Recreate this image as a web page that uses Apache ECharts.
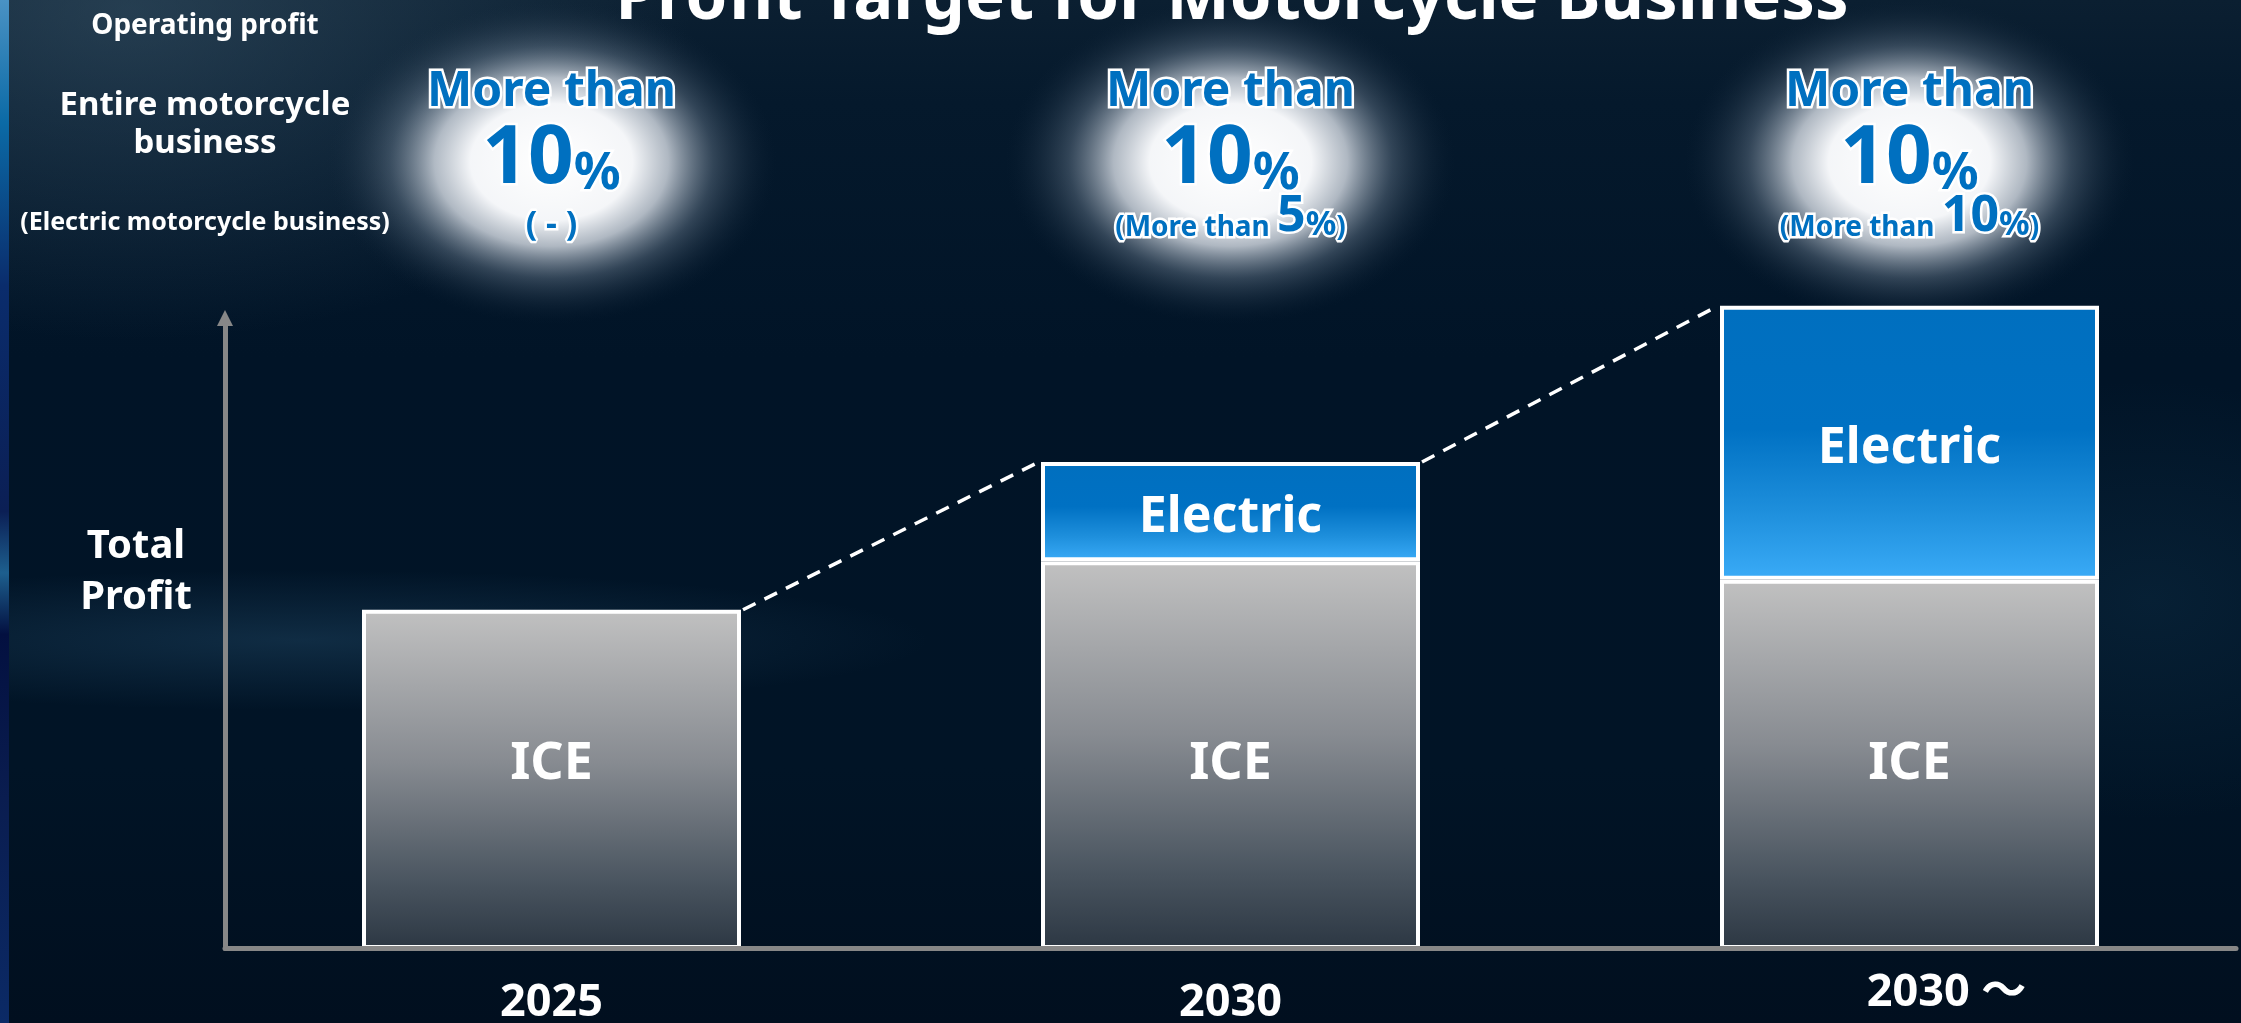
<!DOCTYPE html>
<html>
<head>
<meta charset="utf-8">
<script src="https://cdn.jsdelivr.net/npm/echarts@6/dist/echarts.min.js"></script>
<style>
html,body{margin:0;padding:0;background:#011427;overflow:hidden}
#chart{width:2241px;height:1023px}
</style>
</head>
<body>
<div id="chart"></div>
<script>
// ---------- data ----------
const categories = ['2025', '2030', '2030 ～'];
const iceProfit = [53, 60.6, 57.7];
const electricProfit = [null, 15.5, 42.8];
const glowHeadline = ['More than', 'More than', 'More than'];
const entireMargin = ['10', '10', '10'];
const electricMargin = [null, '5', '10'];
const titleText = 'Profit Target for Motorcycle Business';
const rowLabels = ['Operating profit', 'Entire motorcycle', 'business', '(Electric motorcycle business)'];
const yAxisTitle = ['Total', 'Profit'];
const seriesNames = ['ICE', 'Electric'];

// ---------- styles ----------
const FONT = "'Noto Sans', 'Noto Sans CJK JP', sans-serif";
const BLUE = '#0070c0';
const AXIS_GRAY = '#878787';
const BAR_W = 379;
const LG = echarts.graphic.LinearGradient;
const RG = echarts.graphic.RadialGradient;

// line height that puts the alphabetic baseline on the bottom of the text box
function lh(fs) { return Math.round(fs * 0.57); }

function baseText(x, baseline, text, fs, extra) {
  return Object.assign({
    type: 'text', x: x, y: baseline, z: 50, silent: true,
    style: {
      text: text, fontSize: fs, fontWeight: 'bold', fontFamily: FONT,
      fill: '#ffffff', lineHeight: lh(fs),
      align: 'center', verticalAlign: 'bottom',
      textAlign: 'center', textVerticalAlign: 'bottom'
    }
  }, extra || {});
}

function blueTok(fs) {
  return {
    fontSize: fs, fontWeight: 'bold', fontFamily: FONT, fill: BLUE,
    stroke: '#ffffff', lineWidth: 5, strokeFirst: true,
    lineHeight: lh(fs), verticalAlign: 'bottom'
  };
}

function blueRichText(x, baseline, text, rich) {
  return {
    type: 'text', x: x, y: baseline,
    style: {
      text: text, rich: rich, fill: BLUE, stroke: '#ffffff', lineWidth: 5, strokeFirst: true,
      fontFamily: FONT, fontWeight: 'bold',
      align: 'center', verticalAlign: 'bottom'
    }
  };
}

const totals = iceProfit.map((v, i) => v + (electricProfit[i] || 0));
const connectorData = [];
for (let i = 0; i < categories.length - 1; i++) {
  connectorData.push([i, totals[i], i + 1, totals[i + 1]]);
}

const chart = echarts.init(document.getElementById('chart'), null, { renderer: 'canvas' });

const option = {
  animation: false,
  backgroundColor: '#011427',
  grid: [
    { left: 212, width: 2037, top: 277, bottom: 74, containLabel: false, outerBoundsMode: 'none' },
    { left: 225, right: 5, top: 318, bottom: 74.5, containLabel: false, outerBoundsMode: 'none' }
  ],
  xAxis: [
    {
      type: 'category', gridIndex: 0, data: categories,
      axisLine: { show: false }, axisTick: { show: false }, splitLine: { show: false },
      axisLabel: {
        show: true, interval: 0, color: '#ffffff', fontSize: 45, fontWeight: 'bold',
        fontFamily: FONT, lineHeight: lh(45), verticalAlign: 'bottom', margin: 67,
        formatter: function (v, i) { return i === 2 ? '{shift|' + v + '}' : v; },
        rich: {
          shift: {
            color: '#ffffff', fontSize: 45, fontWeight: 'bold', fontFamily: FONT,
            lineHeight: lh(45), verticalAlign: 'bottom', padding: [0, 0, 0, 74]
          }
        }
      }
    },
    {
      type: 'value', gridIndex: 1, min: 0, max: 1, z: 10,
      axisLine: { show: true, onZero: false, lineStyle: { color: AXIS_GRAY, width: 5 } },
      axisTick: { show: false }, axisLabel: { show: false }, splitLine: { show: false }
    }
  ],
  yAxis: [
    { type: 'value', gridIndex: 0, min: 0, max: 105, show: false },
    {
      type: 'value', gridIndex: 1, min: 0, max: 1, z: 10,
      axisLine: {
        show: true, onZero: false, symbol: ['none', 'triangle'], symbolSize: [16, 16],
        lineStyle: { color: AXIS_GRAY, width: 5 }
      },
      axisTick: { show: false }, axisLabel: { show: false }, splitLine: { show: false }
    }
  ],
  graphic: [
    { type: 'rect', silent: true, z: -100, shape: { x: 0, y: 0, width: 2241, height: 1023 },
      style: { fill: new LG(0, 0, 0, 1, [
        { offset: 0, color: '#0b1f31' }, { offset: 0.1, color: '#05192c' },
        { offset: 0.35, color: '#011427' }, { offset: 0.75, color: '#011426' },
        { offset: 1, color: '#010f1f' }]) } },
    { type: 'circle', silent: true, z: -99, x: 130, y: 10, scaleX: 1.7, shape: { cx: 0, cy: 0, r: 330 },
      style: { fill: new RG(0.5, 0.5, 0.5, [
        { offset: 0, color: 'rgba(70,100,120,0.45)' }, { offset: 1, color: 'rgba(70,100,120,0)' }]) } },
    { type: 'circle', silent: true, z: -99, x: 300, y: 640, scaleX: 9, shape: { cx: 0, cy: 0, r: 70 },
      style: { fill: new RG(0.5, 0.5, 0.5, [
        { offset: 0, color: 'rgba(50,100,135,0.30)' }, { offset: 1, color: 'rgba(50,100,135,0)' }]) } },
    { type: 'circle', silent: true, z: -99, x: 2150, y: 600, scaleX: 1.4, shape: { cx: 0, cy: 0, r: 220 },
      style: { fill: new RG(0.5, 0.5, 0.5, [
        { offset: 0, color: 'rgba(30,80,110,0.20)' }, { offset: 1, color: 'rgba(30,80,110,0)' }]) } },
    { type: 'rect', silent: true, z: -90, shape: { x: 0, y: 0, width: 9, height: 1023 },
      style: { fill: new LG(0, 0, 0, 1, [
        { offset: 0, color: '#4a92c4' }, { offset: 0.12, color: '#0b6aa6' },
        { offset: 0.28, color: '#0a2c6c' }, { offset: 0.5, color: '#0b1f55' },
        { offset: 0.56, color: '#1d5f8e' }, { offset: 0.62, color: '#031040' },
        { offset: 0.78, color: '#0a1d50' }, { offset: 1, color: '#0b2a66' }]) } },
    baseText(1232, 19, titleText, 67),
    baseText(205, 34, rowLabels[0], 28),
    baseText(205, 115, rowLabels[1], 33),
    baseText(205, 153, rowLabels[2], 33),
    baseText(205, 230, rowLabels[3], 25),
    baseText(136, 558, yAxisTitle[0], 40),
    baseText(136, 609, yAxisTitle[1], 40)
  ],
  series: [
    {
      type: 'custom', name: 'glow', xAxisIndex: 0, yAxisIndex: 0, z: 1, clip: false, silent: true,
      data: categories.map((c, i) => [i, 0]),
      renderItem: function (params, api) {
        const i = params.dataIndex;
        const cx = api.coord([api.value(0), 0])[0];
        const cy = 162;
        const sub = electricMargin[i] == null
          ? '{q|( - )}'
          : '{s|(More than }{b|' + electricMargin[i] + '}{p|%}{s|)}';
        return {
          type: 'group',
          children: [
            { type: 'circle', x: cx, y: cy, scaleY: 0.72, shape: { cx: 0, cy: 0, r: 225 },
              style: { fill: new RG(0.5, 0.5, 0.5, [
                { offset: 0, color: 'rgba(255,255,255,1)' },
                { offset: 0.36, color: 'rgba(252,253,255,0.97)' },
                { offset: 0.52, color: 'rgba(218,224,232,0.8)' },
                { offset: 0.72, color: 'rgba(125,142,160,0.38)' },
                { offset: 1, color: 'rgba(20,40,60,0)' }]) } },
            blueRichText(cx, 116, '{h|' + glowHeadline[i] + '}', { h: blueTok(48) }),
            blueRichText(cx, 200, '{n|' + entireMargin[i] + '}{p|%}', { n: blueTok(80), p: blueTok(52) }),
            blueRichText(cx, 242, sub, { s: blueTok(28), b: blueTok(50), p: blueTok(34), q: blueTok(34) })
          ]
        };
      }
    },
    {
      type: 'bar', name: seriesNames[0], stack: 'total', xAxisIndex: 0, yAxisIndex: 0,
      data: iceProfit, barWidth: BAR_W, z: 3,
      itemStyle: {
        color: new LG(0, 0, 0, 1, [
          { offset: 0, color: '#c1c1c1' }, { offset: 0.45, color: '#878b91' },
          { offset: 0.8, color: '#4a5560' }, { offset: 1, color: '#2c3743' }]),
        borderColor: '#ffffff', borderWidth: 4
      },
      label: {
        show: true, formatter: seriesNames[0], position: 'insideBottom', distance: 185,
        verticalAlign: 'middle', color: '#ffffff', fontSize: 52, fontWeight: 'bold', fontFamily: FONT
      }
    },
    {
      type: 'bar', name: seriesNames[1], stack: 'total', xAxisIndex: 0, yAxisIndex: 0,
      data: electricProfit, barWidth: BAR_W, z: 3,
      itemStyle: {
        color: new LG(0, 0, 0, 1, [
          { offset: 0, color: '#006fbf' }, { offset: 0.45, color: '#0071c3' },
          { offset: 0.75, color: '#1e8fdc' }, { offset: 1, color: '#3aabf7' }]),
        borderColor: '#ffffff', borderWidth: 4
      },
      label: {
        show: true, formatter: seriesNames[1], position: 'inside', offset: [0, 6],
        color: '#ffffff', fontSize: 50, fontWeight: 'bold', fontFamily: FONT
      }
    },
    {
      type: 'custom', name: 'connector', xAxisIndex: 0, yAxisIndex: 0, z: 4, clip: false, silent: true,
      data: connectorData,
      renderItem: function (params, api) {
        const a = api.coord([api.value(0), api.value(1)]);
        const b = api.coord([api.value(2), api.value(3)]);
        const half = BAR_W / 2 + 2;
        return {
          type: 'line',
          shape: { x1: a[0] + half, y1: a[1], x2: b[0] - half, y2: b[1] },
          style: { stroke: '#ffffff', lineWidth: 3.5, lineDash: [14, 10], fill: null }
        };
      }
    }
  ]
};

chart.setOption(option);
</script>
</body>
</html>
